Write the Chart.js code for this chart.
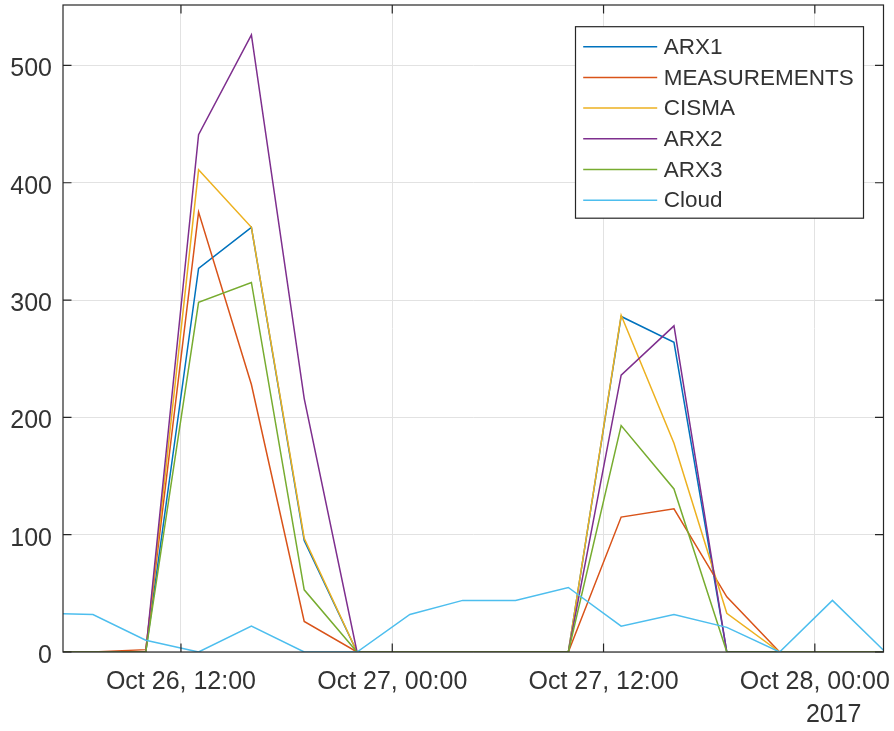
<!DOCTYPE html>
<html>
<head>
<meta charset="utf-8">
<title>ARX / CISMA / Cloud</title>
<script src="https://cdn.jsdelivr.net/npm/chart.js@4.4.1/dist/chart.umd.min.js"></script>
<style>
  html, body { margin: 0; padding: 0; background: #fff; }
  #wrap { width: 894px; height: 731px; }
</style>
</head>
<body>
<div id="wrap"><canvas id="chart" width="894" height="731"></canvas></div>
<script>
// hours counted from Oct 26 2017 00:00, one sample every 3 h
const hours        = [4, 7, 10, 13, 16, 19, 22, 25, 28, 31, 34, 37, 40, 43, 46, 49, 52];
const arx1         = [0, 0, 0, 327, 362, 95, 0, 0, 0, 0, 0, 286, 264, 0, 0, 0, 0];
const measurements = [0, 0, 2, 375, 228, 26, 0, 0, 0, 0, 0, 115, 122, 47, 0, 0, 0];
const cisma        = [0, 0, 0, 411, 362, 97, 0, 0, 0, 0, 0, 287, 178, 33, 0, 0, 0];
const arx2         = [0, 0, 0, 441, 526, 216, 0, 0, 0, 0, 0, 236, 278, 0, 0, 0, 0];
const arx3         = [0, 0, 0, 298, 315, 53, 0, 0, 0, 0, 0, 193, 139, 0, 0, 0, 0];
const cloud        = [33, 32, 10, 0, 22, 0, 0, 32, 44, 44, 55, 22, 32, 21, 0, 44, 0];

const seriesNames  = ['ARX1', 'MEASUREMENTS', 'CISMA', 'ARX2', 'ARX3', 'Cloud'];
const seriesValues = [arx1, measurements, cisma, arx2, arx3, cloud];
const seriesColors = ['#0072BD', '#D95319', '#EDB120', '#7E2F8E', '#77AC30', '#4DBEEE'];

const xTickValues = [12, 24, 36, 48];
const xTickLabels = ['Oct 26, 12:00', 'Oct 27, 00:00', 'Oct 27, 12:00', 'Oct 28, 00:00'];
const yTickValues = [0, 100, 200, 300, 400, 500];
const yearLabel = '2017';

const TEXT = '#333333';
const AXIS = '#262626';
const TICK = 8.5;

Chart.defaults.font.family = '"Liberation Sans", Arial, Helvetica, sans-serif';
Chart.defaults.color = TEXT;

// box round the plot, with inward tick marks on all four sides
const axesBox = {
  id: 'axesBox',
  afterDatasetsDraw(chart) {
    const { ctx, chartArea: a, scales: { x, y } } = chart;
    ctx.save();
    ctx.strokeStyle = AXIS;
    ctx.lineWidth = 1.2;
    ctx.beginPath();
    xTickValues.forEach(v => {
      const px = x.getPixelForValue(v);
      ctx.moveTo(px, a.bottom); ctx.lineTo(px, a.bottom - TICK);
      ctx.moveTo(px, a.top);    ctx.lineTo(px, a.top + TICK);
    });
    yTickValues.forEach(v => {
      const py = y.getPixelForValue(v);
      ctx.moveTo(a.left, py);  ctx.lineTo(a.left + TICK, py);
      ctx.moveTo(a.right, py); ctx.lineTo(a.right - TICK, py);
    });
    ctx.stroke();
    ctx.strokeRect(a.left, a.top, a.right - a.left, a.bottom - a.top);

    // year under the last date label
    ctx.fillStyle = TEXT;
    ctx.font = '25px "Liberation Sans", Arial, sans-serif';
    ctx.textAlign = 'right';
    ctx.textBaseline = 'middle';
    ctx.fillText(yearLabel, a.right - 22, a.bottom + 63);
    ctx.restore();
  }
};

// legend box inside the axes, top right
const boxLegend = {
  id: 'boxLegend',
  afterDraw(chart) {
    const { ctx, chartArea: a } = chart;
    const w = 288, h = 191.5;
    const left = a.right - 20 - w, top = a.top + 21.7;
    ctx.save();
    ctx.fillStyle = '#fff';
    ctx.fillRect(left, top, w, h);
    ctx.strokeStyle = AXIS;
    ctx.lineWidth = 1.2;
    ctx.strokeRect(left, top, w, h);
    ctx.font = '22.5px "Liberation Sans", Arial, sans-serif';
    ctx.textAlign = 'left';
    ctx.textBaseline = 'middle';
    chart.data.datasets.forEach((ds, i) => {
      const ry = top + 20 + i * 30.7;
      ctx.strokeStyle = ds.borderColor;
      ctx.lineWidth = ds.borderWidth;
      ctx.beginPath();
      ctx.moveTo(left + 7.7, ry);
      ctx.lineTo(left + 81.7, ry);
      ctx.stroke();
      ctx.fillStyle = TEXT;
      ctx.fillText(ds.label, left + 88.3, ry + 1);
    });
    ctx.restore();
  }
};

const datasets = seriesNames.map((name, i) => ({
  label: name,
  data: hours.map((h, k) => ({ x: h, y: seriesValues[i][k] })),
  borderColor: seriesColors[i],
  backgroundColor: seriesColors[i],
  borderWidth: 1.5,
  pointRadius: 0,
  tension: 0,
  fill: false,
  order: seriesNames.length - i   // later series drawn on top
}));

new Chart(document.getElementById('chart'), {
  type: 'line',
  data: { datasets },
  options: {
    responsive: false,
    animation: false,
    layout: { padding: { top: 5, right: 10.5, left: 0, bottom: 0 } },
    plugins: {
      legend: { display: false },
      tooltip: { enabled: false }
    },
    scales: {
      x: {
        type: 'linear',
        min: 5.3,
        max: 51.9,
        afterBuildTicks: s => { s.ticks = xTickValues.map(v => ({ value: v })); },
        afterFit: s => { s.height = 79; s.paddingLeft = 0; s.paddingRight = 0; },
        grid: { color: '#e2e2e2', lineWidth: 1, drawTicks: false },
        border: { display: false },
        ticks: {
          padding: 15,
          maxRotation: 0,
          autoSkip: false,
          font: { size: 25 },
          callback: v => xTickLabels[xTickValues.indexOf(v)]
        }
      },
      y: {
        type: 'linear',
        min: 0,
        max: 551.5,
        afterBuildTicks: s => { s.ticks = yTickValues.map(v => ({ value: v })); },
        afterFit: s => { s.width = 63; s.paddingTop = 0; s.paddingBottom = 0; },
        grid: { color: '#e2e2e2', lineWidth: 1, drawTicks: false },
        border: { display: false },
        ticks: {
          padding: 11,
          labelOffset: 4,
          font: { size: 25 },
          callback: v => String(v)
        }
      }
    }
  },
  plugins: [axesBox, boxLegend]
});
</script>
</body>
</html>
